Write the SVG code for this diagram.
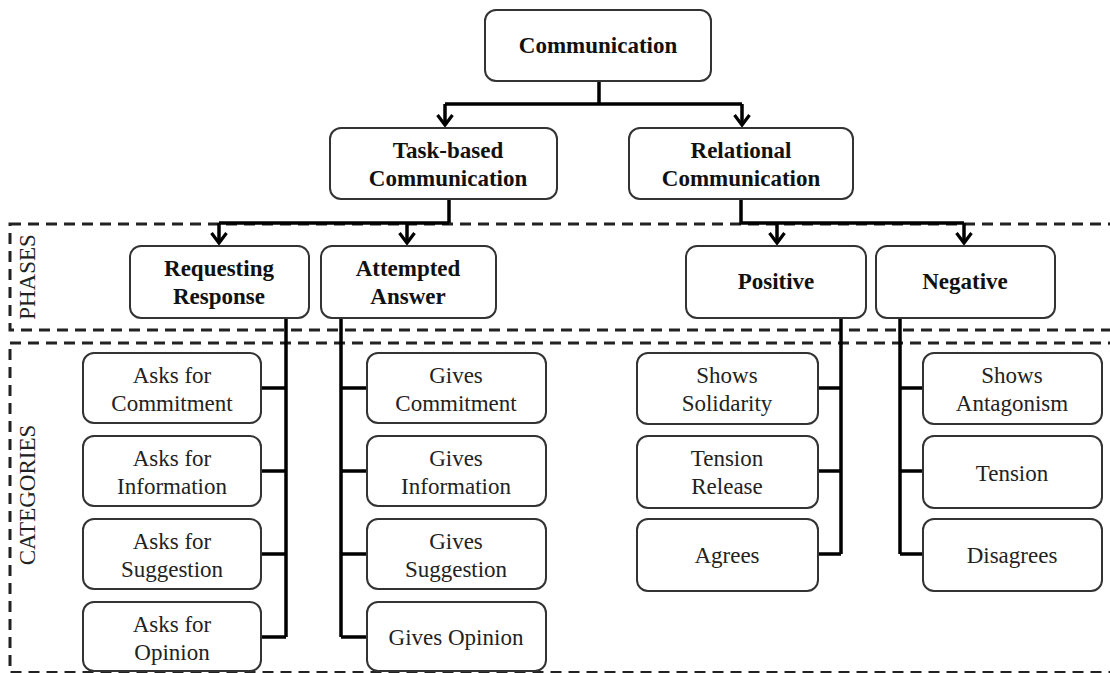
<svg xmlns="http://www.w3.org/2000/svg" width="1110" height="673" viewBox="0 0 1110 673">
<defs>
<marker id="chev" markerUnits="userSpaceOnUse" markerWidth="20" markerHeight="20" refX="11" refY="8" orient="auto" overflow="visible">
<path d="M1,0.5 L11,8 L1,15.5" fill="none" stroke="#000" stroke-width="3.2" stroke-linejoin="miter"/>
</marker>
<style>
.box{fill:#fff;stroke:#333;stroke-width:2}
.b{font-family:"Liberation Serif","Times New Roman",serif;font-size:23px;font-weight:bold;fill:#111;text-anchor:middle}
.r{font-family:"Liberation Serif","Times New Roman",serif;font-size:23px;fill:#222;text-anchor:middle}
.lab{font-family:"Liberation Serif","Times New Roman",serif;font-size:23px;fill:#222;text-anchor:middle}
.zone{fill:none;stroke:#222;stroke-width:3;stroke-dasharray:11 7}
.con{fill:none;stroke:#000;stroke-width:3.5}
</style>
</defs>
<rect width="1110" height="673" fill="#fff"/>
<g id="zones">
<rect class="zone" x="10" y="224" width="1110" height="106"/>
<rect class="zone" x="10" y="343" width="1110" height="329.5"/>
<text class="lab" transform="translate(35,277) rotate(-90)">PHASES</text>
<text class="lab" transform="translate(35,495) rotate(-90)">CATEGORIES</text>
</g>
<g id="connectors">
<path class="con" d="M599 81V104M445 104H742M449 199V223M219 223H449M741 199V223H964"/>
<path class="con" d="M445 104V125" marker-end="url(#chev)"/>
<path class="con" d="M742 104V125" marker-end="url(#chev)"/>
<path class="con" d="M219 223V243" marker-end="url(#chev)"/>
<path class="con" d="M407 223V243" marker-end="url(#chev)"/>
<path class="con" d="M777 223V243" marker-end="url(#chev)"/>
<path class="con" d="M964 223V243" marker-end="url(#chev)"/>
<path class="con" d="M286 318V637M261 388H286M261 471H286M261 554H286M261 637H286"/>
<path class="con" d="M341 318V637M341 388H367M341 471H367M341 554H367M341 637H367"/>
<path class="con" d="M841 318V554M818 388H841M818 471H841M818 554H841"/>
<path class="con" d="M900 318V554M900 388H923M900 471H923M900 554H923"/>
</g>
<g id="n-communication"><rect class="box" x="485" y="10" width="226" height="71" rx="11"/><text class="b" x="598" y="53">Communication</text></g>
<g id="n-task"><rect class="box" x="330" y="128" width="227" height="71" rx="11"/><text class="b" x="448" y="158">Task-based</text><text class="b" x="448" y="186">Communication</text></g>
<g id="n-relational"><rect class="box" x="629" y="128" width="224" height="71" rx="11"/><text class="b" x="741" y="158">Relational</text><text class="b" x="741" y="186">Communication</text></g>
<g id="n-requesting"><rect class="box" x="130" y="246" width="179" height="72" rx="11"/><text class="b" x="219" y="276">Requesting</text><text class="b" x="219" y="304">Response</text></g>
<g id="n-attempted"><rect class="box" x="321" y="246" width="175" height="72" rx="11"/><text class="b" x="408" y="276">Attempted</text><text class="b" x="408" y="304">Answer</text></g>
<g id="n-positive"><rect class="box" x="686" y="246" width="180" height="72" rx="11"/><text class="b" x="776" y="289">Positive</text></g>
<g id="n-negative"><rect class="box" x="876" y="246" width="179" height="72" rx="11"/><text class="b" x="965" y="289">Negative</text></g>
<g id="n-ask-commitment"><rect class="box" x="83" y="353" width="178" height="70" rx="11"/><text class="r" x="172" y="383">Asks for</text><text class="r" x="172" y="411">Commitment</text></g>
<g id="n-ask-information"><rect class="box" x="83" y="436" width="178" height="70" rx="11"/><text class="r" x="172" y="466">Asks for</text><text class="r" x="172" y="494">Information</text></g>
<g id="n-ask-suggestion"><rect class="box" x="83" y="519" width="178" height="70" rx="11"/><text class="r" x="172" y="549">Asks for</text><text class="r" x="172" y="577">Suggestion</text></g>
<g id="n-ask-opinion"><rect class="box" x="83" y="602" width="178" height="69" rx="11"/><text class="r" x="172" y="632">Asks for</text><text class="r" x="172" y="660">Opinion</text></g>
<g id="n-give-commitment"><rect class="box" x="367" y="353" width="179" height="70" rx="11"/><text class="r" x="456" y="383">Gives</text><text class="r" x="456" y="411">Commitment</text></g>
<g id="n-give-information"><rect class="box" x="367" y="436" width="179" height="70" rx="11"/><text class="r" x="456" y="466">Gives</text><text class="r" x="456" y="494">Information</text></g>
<g id="n-give-suggestion"><rect class="box" x="367" y="519" width="179" height="70" rx="11"/><text class="r" x="456" y="549">Gives</text><text class="r" x="456" y="577">Suggestion</text></g>
<g id="n-give-opinion"><rect class="box" x="367" y="602" width="179" height="69" rx="11"/><text class="r" x="456" y="645">Gives Opinion</text></g>
<g id="n-solidarity"><rect class="box" x="637" y="353" width="181" height="71" rx="11"/><text class="r" x="727" y="383">Shows</text><text class="r" x="727" y="411">Solidarity</text></g>
<g id="n-tension-release"><rect class="box" x="637" y="436" width="181" height="72" rx="11"/><text class="r" x="727" y="466">Tension</text><text class="r" x="727" y="494">Release</text></g>
<g id="n-agrees"><rect class="box" x="637" y="519" width="181" height="72" rx="11"/><text class="r" x="727" y="563">Agrees</text></g>
<g id="n-antagonism"><rect class="box" x="923" y="353" width="179" height="71" rx="11"/><text class="r" x="1012" y="383">Shows</text><text class="r" x="1012" y="411">Antagonism</text></g>
<g id="n-tension"><rect class="box" x="923" y="436" width="179" height="72" rx="11"/><text class="r" x="1012" y="481">Tension</text></g>
<g id="n-disagrees"><rect class="box" x="923" y="519" width="179" height="72" rx="11"/><text class="r" x="1012" y="563">Disagrees</text></g>
</svg>
